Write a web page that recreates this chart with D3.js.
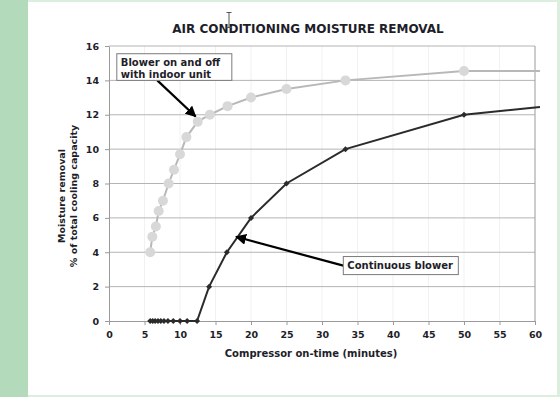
<!DOCTYPE html>
<html>
<head>
<meta charset="utf-8">
<script src="https://cdn.jsdelivr.net/npm/d3@7"></script>
<style>
  body { margin: 0; background: #fff; }
  svg { display: block; font-family: "DejaVu Sans", Verdana, sans-serif; }
</style>
</head>
<body>
<div id="chart"></div>
<script>
// Blower on and off with indoor unit (grey circles)
const cycledX = [5.8, 6.1, 6.6, 7.0, 7.6, 8.4, 9.15, 10, 10.9, 12.5, 14.2, 16.7, 20, 25, 33.3, 50];
const cycledY = [4.0, 4.9, 5.5, 6.4, 7.0, 8.0, 8.8, 9.7, 10.7, 11.6, 12.0, 12.5, 13.0, 13.5, 14.0, 14.55];
const cycledEnd = [60.7, 14.55];

// Continuous blower (black diamonds)
const contX = [5.8, 6.15, 6.5, 6.9, 7.3, 7.75, 8.3, 9.05, 10, 11, 12.4, 14.1, 16.6, 20, 25, 33.3, 50];
const contY = [0, 0, 0, 0, 0, 0, 0, 0, 0, 0, 0, 2, 4, 6, 8, 10, 12];
const contEnd = [60.7, 12.45];

const xTicks = [0, 5, 10, 15, 20, 25, 30, 35, 40, 45, 50, 55, 60];
const yTicks = [0, 2, 4, 6, 8, 10, 12, 14, 16];

const width = 560, height = 397;
const textColor = "#1e1e2a";

const svg = d3.select("#chart").append("svg")
    .attr("width", width)
    .attr("height", height);

// page frame: green strip on the left, pale green border
svg.append("rect").attr("x", 0).attr("y", 0).attr("width", width).attr("height", height).attr("fill", "#dcefdf");
svg.append("rect").attr("x", 0).attr("y", 0).attr("width", 28).attr("height", height).attr("fill", "#b3dbbb");
svg.append("rect").attr("x", 28).attr("y", 2).attr("width", 529).attr("height", 393).attr("fill", "#fff");

const x = d3.scaleLinear().domain([0, 60]).range([109, 535]);
const y = d3.scaleLinear().domain([0, 16]).range([321, 46]);

// faint vertical grid
svg.append("g").selectAll("line")
    .data(xTicks.slice(1, -1))
    .enter().append("line")
    .attr("x1", d => x(d)).attr("x2", d => x(d))
    .attr("y1", y(16)).attr("y2", y(0))
    .attr("stroke", "#f1f1f1").attr("stroke-width", 1);

// horizontal grid
svg.append("g").selectAll("line")
    .data(yTicks.slice(1))
    .enter().append("line")
    .attr("x1", x(0)).attr("x2", x(60))
    .attr("y1", d => y(d)).attr("y2", d => y(d))
    .attr("stroke", "#b4b4b4").attr("stroke-width", 1);

// right border of plot box
svg.append("line")
    .attr("x1", x(60)).attr("x2", x(60))
    .attr("y1", y(16)).attr("y2", y(0))
    .attr("stroke", "#9a9a9a");

// axes
svg.append("g")
    .attr("transform", `translate(0,${y(0)})`)
    .call(d3.axisBottom(x).tickValues(xTicks).tickSize(4).tickPadding(6).tickSizeOuter(0));
svg.append("g")
    .attr("transform", `translate(${x(0)},0)`)
    .call(d3.axisLeft(y).tickValues(yTicks).tickSize(4).tickPadding(6).tickSizeOuter(0));

svg.selectAll(".domain, .tick line").attr("stroke", "#9a9a9a");
svg.selectAll(".tick text")
    .attr("fill", textColor)
    .style("font-size", "9.5px")
    .style("font-weight", "bold")
    .style("font-family", "DejaVu Sans, sans-serif");

// grey series
const cycled = cycledX.map((d, i) => [d, cycledY[i]]);
const line = d3.line().x(d => x(d[0])).y(d => y(d[1]));

svg.append("path")
    .datum(cycled.concat([cycledEnd]))
    .attr("fill", "none")
    .attr("stroke", "#b8b8b8")
    .attr("stroke-width", 2)
    .attr("d", line);

svg.append("g").selectAll("circle")
    .data(cycled)
    .enter().append("circle")
    .attr("cx", d => x(d[0]))
    .attr("cy", d => y(d[1]))
    .attr("r", 5)
    .attr("fill", "#d8d8d8");

// black series
const cont = contX.map((d, i) => [d, contY[i]]);
svg.append("path")
    .datum(cont.concat([contEnd]))
    .attr("fill", "none")
    .attr("stroke", "#2b2b2b")
    .attr("stroke-width", 2)
    .attr("d", line);

svg.append("g").selectAll("path")
    .data(cont)
    .enter().append("path")
    .attr("transform", d => `translate(${x(d[0])},${y(d[1])})`)
    .attr("d", "M0,-3L3,0L0,3L-3,0Z")
    .attr("fill", "#2b2b2b");

// arrowhead
svg.append("defs").append("marker")
    .attr("id", "arrow")
    .attr("viewBox", "0 0 10 10")
    .attr("refX", 9).attr("refY", 5)
    .attr("markerWidth", 5).attr("markerHeight", 5)
    .attr("markerUnits", "strokeWidth")
    .attr("orient", "auto")
    .append("path")
    .attr("d", "M0,0L10,5L0,10Z")
    .attr("fill", "#000");

// annotations (positions in data units)
const notes = [
    { lines: ["Blower on and off", "with indoor unit"], box: [1.1, 15.55, 17.3, 14.0], from: [6.8, 14.0], to: [12.2, 11.9] },
    { lines: ["Continuous blower"], box: [33.0, 3.75, 49.2, 2.7], from: [33.0, 3.22], to: [17.9, 4.9] }
];

notes.forEach(n => {
    svg.append("line")
        .attr("x1", x(n.from[0])).attr("y1", y(n.from[1]))
        .attr("x2", x(n.to[0])).attr("y2", y(n.to[1]))
        .attr("stroke", "#000")
        .attr("stroke-width", 2.2)
        .attr("marker-end", "url(#arrow)");
    svg.append("rect")
        .attr("x", x(n.box[0])).attr("y", y(n.box[1]))
        .attr("width", x(n.box[2]) - x(n.box[0]))
        .attr("height", y(n.box[3]) - y(n.box[1]))
        .attr("fill", "#fff")
        .attr("stroke", "#7a7a7a");
    n.lines.forEach((t, i) => {
        svg.append("text")
            .attr("x", x(n.box[0]) + 4)
            .attr("y", y(n.box[1]) + 12 + i * 12)
            .attr("fill", textColor)
            .style("font-size", "10px")
            .style("font-weight", "bold")
            .text(t);
    });
});

// title
svg.append("text")
    .attr("x", 308).attr("y", 33)
    .attr("text-anchor", "middle")
    .attr("fill", textColor)
    .style("font-size", "12px")
    .style("font-weight", "bold")
    .text("AIR CONDITIONING MOISTURE REMOVAL");

// axis titles
svg.append("text")
    .attr("x", 311).attr("y", 357)
    .attr("text-anchor", "middle")
    .attr("fill", textColor)
    .style("font-size", "10px")
    .style("font-weight", "bold")
    .text("Compressor on-time (minutes)");

const yLabel = svg.append("text")
    .attr("transform", "translate(65,196) rotate(-90)")
    .attr("text-anchor", "middle")
    .attr("fill", textColor)
    .style("font-size", "9.5px")
    .style("font-weight", "bold");
yLabel.append("tspan").attr("x", 0).attr("dy", 0).text("Moisture removal");
yLabel.append("tspan").attr("x", 0).attr("dy", 11.5).text("% of total cooling capacity");

// text cursor seen in the screenshot
const cur = svg.append("g").attr("stroke", "#555").attr("stroke-width", 1);
cur.append("line").attr("x1", 229).attr("x2", 229).attr("y1", 13).attr("y2", 27);
cur.append("line").attr("x1", 226.5).attr("x2", 231.5).attr("y1", 12.5).attr("y2", 12.5);
cur.append("line").attr("x1", 226.5).attr("x2", 231.5).attr("y1", 27.5).attr("y2", 27.5);
</script>
</body>
</html>
